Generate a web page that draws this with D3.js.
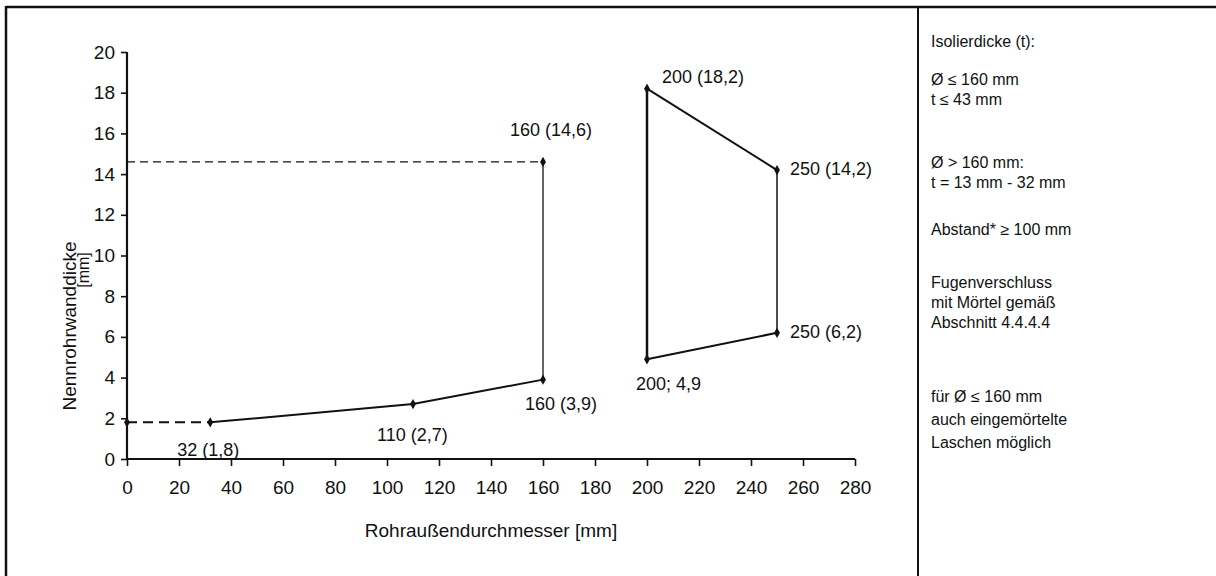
<!DOCTYPE html>
<html>
<head>
<meta charset="utf-8">
<script src="https://cdn.jsdelivr.net/npm/d3@7"></script>
<style>
  html, body { margin: 0; padding: 0; background: #fff; }
  svg { display: block; }
  text { font-family: "Liberation Sans", Arial, sans-serif; fill: #111; }
</style>
</head>
<body>
<svg id="chart" width="1216" height="576"></svg>
<script>
// ---------- data ----------
const xTickValues = [0, 20, 40, 60, 80, 100, 120, 140, 160, 180, 200, 220, 240, 260, 280];
const yTickValues = [0, 2, 4, 6, 8, 10, 12, 14, 16, 18, 20];

// extrapolated lower limit (dashed) for small diameters
const dashDiam  = [0, 32];
const dashThick = [1.8, 1.8];

// lower limit curve, Ø <= 160 mm
const lowerDiam  = [32, 110, 160];
const lowerThick = [1.8, 2.7, 3.9];

// upper limit for Ø <= 160 mm (vertical at 160, dashed reference to axis)
const upperVertDiam  = [160, 160];
const upperVertThick = [3.9, 14.6];
const upperRefDiam   = [0, 160];
const upperRefThick  = [14.6, 14.6];

// region for Ø > 160 mm
const quadDiam  = [200, 250, 250, 200];
const quadThick = [18.2, 14.2, 6.2, 4.9];

// labelled points
const ptDiam   = [32, 110, 160, 160, 200, 250, 250, 200];
const ptThick  = [1.8, 2.7, 3.9, 14.6, 18.2, 14.2, 6.2, 4.9];
const ptLabels = ["32 (1,8)", "110 (2,7)", "160 (3,9)", "160 (14,6)", "200 (18,2)", "250 (14,2)", "250 (6,2)", "200; 4,9"];

const xTitle = "Rohraußendurchmesser [mm]";
const yTitle = "Nennrohrwanddicke";
const yUnit  = "[mm]";

const noteLines = [
  "Isolierdicke (t):",
  "Ø ≤ 160 mm",
  "t ≤ 43 mm",
  "Ø > 160 mm:",
  "t = 13 mm - 32 mm",
  "Abstand* ≥ 100 mm",
  "Fugenverschluss",
  "mit Mörtel gemäß",
  "Abschnitt 4.4.4.4",
  "für Ø ≤ 160 mm",
  "auch eingemörtelte",
  "Laschen möglich"
];

// ---------- layout ----------
const svg = d3.select("#chart");
const x = d3.scaleLinear().domain([0, 280]).range([127, 855]);
const y = d3.scaleLinear().domain([0, 20]).range([459, 52]);

// frame
svg.append("line").attr("x1", 6).attr("x2", 1216).attr("y1", 7).attr("y2", 7)
  .attr("stroke", "#111").attr("stroke-width", 2.5);
svg.append("line").attr("x1", 6).attr("x2", 6).attr("y1", 6).attr("y2", 576)
  .attr("stroke", "#111").attr("stroke-width", 2.5);
svg.append("line").attr("x1", 918).attr("x2", 918).attr("y1", 6).attr("y2", 576)
  .attr("stroke", "#111").attr("stroke-width", 2);

// axes
const xAxis = d3.axisBottom(x).tickValues(xTickValues).tickSize(7).tickPadding(15).tickFormat(d3.format("d"));
const yAxis = d3.axisLeft(y).tickValues(yTickValues).tickSize(6).tickPadding(6).tickFormat(d3.format("d"));

const gx = svg.append("g").attr("transform", `translate(0,${y(0)})`).call(xAxis);
const gy = svg.append("g").attr("transform", `translate(${x(0)},0)`).call(yAxis);
[gx, gy].forEach(g => {
  g.select(".domain").attr("stroke", "#111").attr("stroke-width", 2.2);
  g.selectAll(".tick line").attr("stroke", "#111").attr("stroke-width", 1.6);
  g.selectAll(".tick text").style("font-family", '"Liberation Sans", Arial, sans-serif')
    .style("font-size", "19px").attr("fill", "#111");
});
gx.select(".domain").attr("d", `M${x(0)},0H${x(280)}`);
gy.select(".domain").attr("d", `M0,${y(0)}V${y(20)}`);

// axis titles
svg.append("text").attr("x", (x(0) + x(280)) / 2).attr("y", 537)
  .attr("text-anchor", "middle").style("font-size", "19px").text(xTitle);
svg.append("text").attr("transform", "translate(76,326) rotate(-90)")
  .attr("text-anchor", "middle").style("font-size", "19px").text(yTitle);
svg.append("text").attr("transform", "translate(89,270) rotate(-90)")
  .attr("text-anchor", "middle").style("font-size", "16px").text(yUnit);

// lines
const line = d3.line().x(d => x(d[0])).y(d => y(d[1]));
const zip = (a, b) => a.map((v, i) => [v, b[i]]);

svg.append("path").attr("d", line(zip(dashDiam, dashThick)))
  .attr("fill", "none").attr("stroke", "#111").attr("stroke-width", 2).attr("stroke-dasharray", "10,6");
svg.append("path").attr("d", line(zip(lowerDiam, lowerThick)))
  .attr("fill", "none").attr("stroke", "#111").attr("stroke-width", 2);
svg.append("path").attr("d", line(zip(upperVertDiam, upperVertThick)))
  .attr("fill", "none").attr("stroke", "#111").attr("stroke-width", 1.3);
svg.append("path").attr("d", line(zip(upperRefDiam, upperRefThick)))
  .attr("fill", "none").attr("stroke", "#111").attr("stroke-width", 1.3).attr("stroke-dasharray", "8,5");

// quad edges with varying weights
const quadPts = zip(quadDiam, quadThick);
const edgeW = [2, 1.5, 2, 2.5];
quadPts.forEach((p, i) => {
  const q = quadPts[(i + 1) % quadPts.length];
  svg.append("path").attr("d", line([p, q]))
    .attr("fill", "none").attr("stroke", "#111").attr("stroke-width", edgeW[i]);
});

// markers
const diamond = d3.symbol().type(d3.symbolDiamond).size(30);
svg.append("g").selectAll("path").data(zip(ptDiam, ptThick)).join("path")
  .attr("d", diamond).attr("transform", d => `translate(${x(d[0])},${y(d[1])})`).attr("fill", "#111");
svg.append("path").attr("d", diamond).attr("transform", `translate(${x(dashDiam[0])},${y(dashThick[0])})`).attr("fill", "#111");

// point labels
const labelOffsets = [[-33, 34], [-36, 37], [-18, 30], [-33, -26], [15, -6], [13, 5], [13, 5], [-11, 31]];
svg.append("g").selectAll("text").data(ptLabels).join("text")
  .attr("x", (d, i) => x(ptDiam[i]) + labelOffsets[i][0])
  .attr("y", (d, i) => y(ptThick[i]) + labelOffsets[i][1])
  .style("font-size", "18px").text(d => d);

// notes panel
const noteY = [47, 85, 105, 168, 188, 235, 288, 308, 328, 402, 425, 448];
svg.append("g").selectAll("text").data(noteLines).join("text")
  .attr("x", 931).attr("y", (d, i) => noteY[i])
  .style("font-size", "16px").text(d => d);
</script>
</body>
</html>
